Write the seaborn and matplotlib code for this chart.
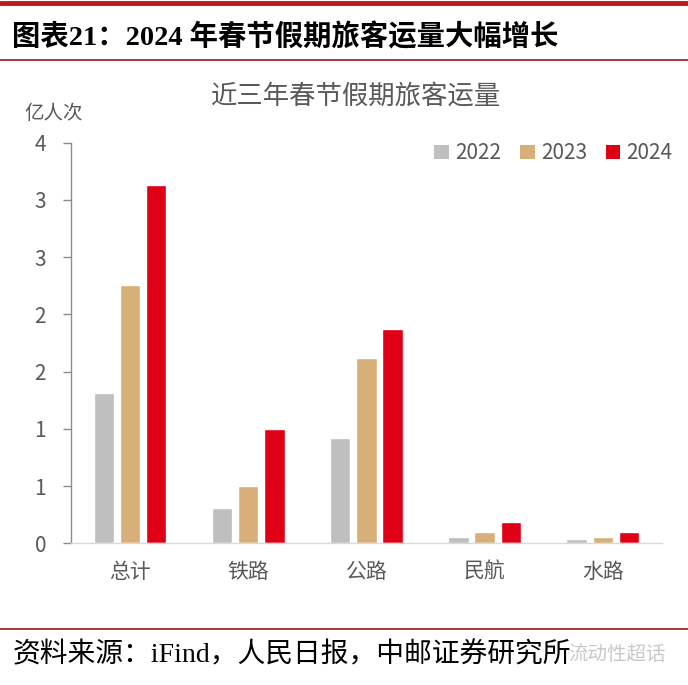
import numpy as np
import pandas as pd
import matplotlib
matplotlib.use("Agg")
import matplotlib.pyplot as plt
from matplotlib.patches import Patch
from matplotlib.lines import Line2D
from matplotlib.ticker import FixedLocator, FixedFormatter
import seaborn as sns

# ==========================================================
# DATA (亿人次)
# ==========================================================

CATEGORIES = ["总计", "铁路", "公路", "民航", "水路"]
YEARS = ["2022", "2023", "2024"]
V_2022 = [1.31, 0.31, 0.92, 0.055, 0.035]
V_2023 = [2.26, 0.50, 1.62, 0.096, 0.055]
V_2024 = [3.13, 1.00, 1.87, 0.19, 0.099]

Y_TICKS = [0, 0.5, 1.0, 1.5, 2.0, 2.5, 3.0, 3.5]
Y_TICK_LABELS = ["0", "1", "1", "2", "2", "3", "3", "4"]   # as printed (rounded)

COLORS = {"2022": "#BFBFBF", "2023": "#D9AF79", "2024": "#E00016"}
TEXT_GRAY = "#595959"

SANS = ["Noto Sans CJK SC", "DejaVu Sans"]
SERIF = ["Liberation Serif", "Noto Sans CJK SC"]

# ==========================================================
# BUILD TABLE
# ==========================================================

rows = []
for year, vals in zip(YEARS, [V_2022, V_2023, V_2024]):
    for cat, v in zip(CATEGORIES, vals):
        rows.append({"类别": cat, "年份": year, "运量": v})
df = pd.DataFrame(rows)

# ==========================================================
# PLOT
# ==========================================================

sns.set_style("white")
plt.rcParams["font.family"] = SANS

fig = plt.figure(figsize=(6.88, 6.85), dpi=100)
ax = fig.add_axes([0.1032, 0.2068, 0.8588, 0.5849])

sns.barplot(data=df, x="类别", y="运量", hue="年份", order=CATEGORIES,
            hue_order=YEARS, palette=COLORS, saturation=1,
            width=0.665, gap=0.22, ax=ax, legend=False)

ax.set_ylim(0, 3.5)
ax.set_xlim(-0.5, len(CATEGORIES) - 0.5)
ax.yaxis.set_major_locator(FixedLocator(Y_TICKS))
ax.yaxis.set_major_formatter(FixedFormatter(Y_TICK_LABELS))
ax.set_xlabel("")
ax.set_ylabel("")

for side in ["top", "right"]:
    ax.spines[side].set_visible(False)
ax.spines["left"].set_color("#8C8C8C")
ax.spines["left"].set_linewidth(1.0)
ax.spines["bottom"].set_color("#D9D9D9")
ax.spines["bottom"].set_linewidth(1.0)

ax.tick_params(axis="y", left=True, length=6, width=1.0, color="#8C8C8C",
               labelsize=15, labelcolor=TEXT_GRAY, pad=12)
ax.tick_params(axis="x", bottom=False, labelsize=15, labelcolor=TEXT_GRAY, pad=9)

handles = [Patch(facecolor=COLORS[y], edgecolor="none", label=y) for y in YEARS]
ax.legend(handles=handles, ncol=3, frameon=False, loc="center right",
          bbox_to_anchor=(1.018, 0.974), fontsize=15, labelcolor=TEXT_GRAY,
          handlelength=0.7, handleheight=0.7, handletextpad=0.3,
          columnspacing=0.9, borderaxespad=0, borderpad=0)

# chart texts
fig.text(0.518, 0.859, "近三年春节假期旅客运量", ha="center", va="center",
         fontsize=19, color=TEXT_GRAY)
fig.text(0.036, 0.834, "亿人次", ha="left", va="center",
         fontsize=14, color=TEXT_GRAY)

# page header / footer
fig.add_artist(Line2D([0, 1], [0.995, 0.995], color="#C4161C", linewidth=3.5,
                      transform=fig.transFigure))
fig.text(0.018, 0.946, "图表21：2024 年春节假期旅客运量大幅增长", ha="left",
         va="center", fontsize=20.4, fontweight="bold", family=SERIF, color="black")
fig.add_artist(Line2D([0, 1], [0.912, 0.912], color="#A0141C", linewidth=1.2,
                      transform=fig.transFigure))

fig.add_artist(Line2D([0, 1], [0.082, 0.082], color="#A0141C", linewidth=1.2,
                      transform=fig.transFigure))
fig.text(0.018, 0.044, "资料来源：iFind，人民日报，中邮证券研究所", ha="left",
         va="center", fontsize=20, family=SERIF, color="black")
fig.text(0.968, 0.044, "流动性超话", ha="right", va="center",
         fontsize=14, color="#C8C8C8")

fig.savefig("out.png", dpi=100)
plt.close(fig)
